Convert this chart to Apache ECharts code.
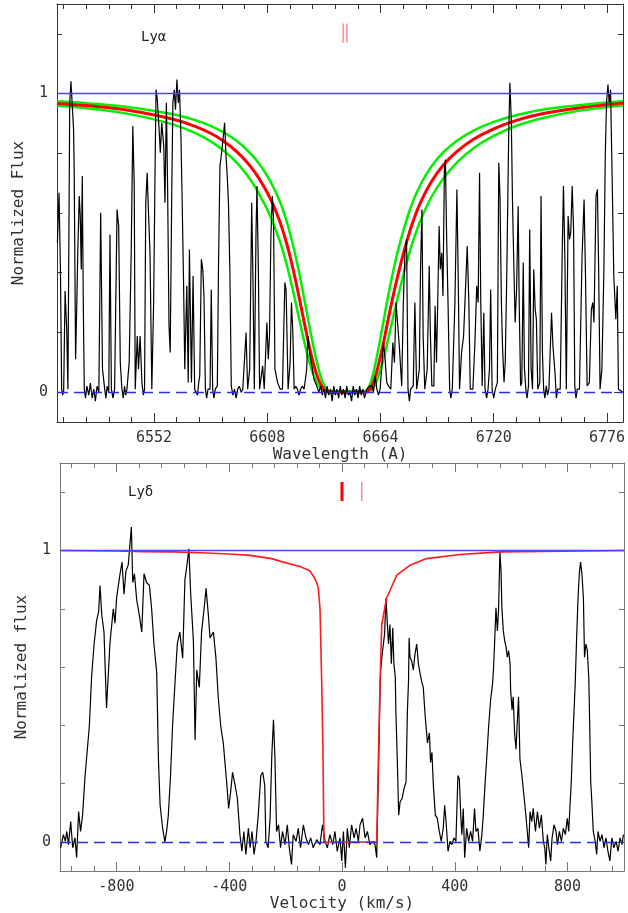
<!DOCTYPE html>
<html>
<head>
<meta charset="utf-8">
<title>Lyα / Lyδ</title>
<script src="https://cdn.jsdelivr.net/npm/echarts@6/dist/echarts.min.js"></script>
<style>
html,body{margin:0;padding:0;background:#fff;}
#main{width:628px;height:913px;}
</style>
</head>
<body>
<div id="main"></div>
<script>
// tick positions
var lyaMajor = [6552, 6608, 6664, 6720, 6776];
var lyaMinor = [6507.2, 6518.4, 6529.6, 6540.8, 6563.2, 6574.4, 6585.6, 6596.8, 6619.2, 6630.4,
	6641.6, 6652.8, 6675.2, 6686.4, 6697.6, 6708.8, 6731.2, 6742.4, 6753.6, 6764.8];
var velMajor = [-800, -400, 0, 400, 800];
var velMinor = [-960, -880, -720, -640, -560, -480, -320, -240, -160, -80, 80, 160, 240, 320, 480, 560, 640, 720, 880, 960];
var fluxMajor = [0, 1];
var fluxMinor = [0.2, 0.4, 0.6, 0.8, 1.2];

// Lya fit (red) and its error envelope (green)
var lyaFitWave = [6504,6520,6535,6550,6562,6572,6580,6587,6593,6598,6602,6606,6609,6612,6615,6618,6621,6624,6627,6630,6633,6636,6639,
	6656,6658,6660,6662,6665,6668,6671,6674,6677,6680,6684,6689,6695,6702,6710,6720,6732,6746,6762,6784];
var lyaFit = [0.967,0.959,0.948,0.931,0.913,0.891,0.867,0.838,0.805,0.770,0.735,0.692,0.655,0.610,0.556,0.488,0.405,0.310,0.210,0.118,0.048,0.010,0.0,
	0.0,0.005,0.025,0.065,0.150,0.250,0.345,0.430,0.505,0.570,0.638,0.703,0.760,0.807,0.847,0.882,0.912,0.935,0.952,0.968];
var lyaFitHigh = [0.974,0.967,0.958,0.944,0.930,0.912,0.892,0.868,0.841,0.811,0.782,0.745,0.713,0.673,0.625,0.563,0.485,0.392,0.287,0.181,0.088,0.025,0.003,
	0.003,0.014,0.052,0.112,0.219,0.330,0.427,0.509,0.579,0.638,0.698,0.754,0.803,0.843,0.876,0.905,0.929,0.948,0.961,0.974];
var lyaFitLow = [0.960,0.950,0.937,0.917,0.895,0.869,0.840,0.806,0.768,0.727,0.687,0.638,0.597,0.547,0.489,0.417,0.332,0.239,0.149,0.074,0.025,0.004,0.0,
	0.0,0.002,0.011,0.036,0.099,0.184,0.273,0.357,0.435,0.504,0.578,0.651,0.715,0.770,0.817,0.858,0.894,0.921,0.942,0.961];

// Lya spectrum [wavelength, flux]
var lyaSpectrum = [
	[6504.2,0.50],[6505.0,0.668],[6505.7,0.411],[6506.3,0.01],[6506.8,-0.01],[6507.3,0.004],[6508.0,0.339],[6508.8,0.211],
	[6509.4,0.01],[6510.3,0.969],[6510.9,1.041],[6511.6,1.036],[6512.2,0.88],[6512.5,0.746],[6513.2,0.11],[6513.8,0.30],
	[6514.3,0.478],[6515.0,0.657],[6515.5,0.59],[6516.0,0.411],[6516.5,0.724],[6517.0,0.30],[6517.5,0.01],
	[6518.1,-0.02],[6518.8,0.02],[6519.7,-0.01],[6520.5,0.03],[6521.4,-0.02],[6522.2,0.01],[6523.0,-0.03],[6523.8,0.02],[6524.7,0.0],
	[6525.6,0.601],[6526.5,0.077],[6527.6,0.01],[6528.2,-0.02],[6528.8,0.02],[6529.6,0.0],[6530.2,0.528],[6530.9,0.01],
	[6531.7,-0.02],[6532.5,0.01],[6533.7,0.612],[6534.5,0.556],[6535.3,0.099],[6536.1,0.01],[6536.8,-0.02],[6537.4,0.02],
	[6538.0,-0.01],[6538.6,0.01],[6539.7,0.099],[6540.7,0.467],[6541.5,0.891],[6542.2,0.69],[6542.7,0.01],[6543.7,0.188],
	[6544.3,0.077],[6545.1,0.188],[6546.0,0.032],[6546.7,-0.01],[6547.3,0.01],[6547.9,0.634],[6548.6,0.735],[6549.2,0.612],
	[6550.0,0.467],[6550.9,0.01],[6551.8,0.30],[6552.5,0.746],[6553.0,1.013],[6553.6,0.98],[6554.5,0.88],[6555.1,0.802],
	[6555.8,0.902],[6556.8,0.824],[6557.4,0.634],[6558.1,0.969],[6558.7,0.69],[6559.4,0.222],[6560.0,0.133],[6560.7,0.634],
	[6561.3,0.969],[6562.0,1.013],[6562.6,0.946],[6563.3,1.047],[6564.0,0.969],[6564.6,1.013],[6565.3,0.857],[6565.8,0.679],
	[6566.6,0.367],[6567.2,0.077],[6568.2,0.356],[6568.9,0.032],[6569.5,0.478],[6570.5,0.032],[6571.3,0.389],[6572.1,0.01],
	[6573.5,-0.01],[6574.1,0.032],[6574.6,0.055],[6575.4,0.445],[6576.1,0.411],[6576.7,0.322],[6577.4,0.01],[6578.0,-0.02],
	[6578.7,0.01],[6579.7,0.01],[6580.3,0.344],[6581.0,0.01],[6581.6,-0.02],[6582.3,0.01],[6583.3,0.021],[6583.9,0.434],
	[6584.6,0.757],[6585.2,0.79],[6586.1,0.846],[6586.9,0.902],[6587.5,0.802],[6588.2,0.724],[6588.8,0.634],[6589.5,0.411],
	[6590.2,0.021],[6591.0,-0.01],[6591.8,0.01],[6592.6,-0.02],[6593.4,0.01],[6594.2,0.02],[6595.1,-0.001],[6595.9,0.01],
	[6596.7,0.01],[6597.5,0.2],[6598.3,0.01],[6599.3,0.077],[6600.3,0.634],[6600.9,0.389],[6601.6,0.01],[6602.4,0.523],
	[6602.9,0.69],[6603.6,0.411],[6604.2,0.01],[6605.7,0.088],[6606.5,0.01],[6607.8,0.233],[6608.5,0.11],[6609.1,0.188],
	[6609.8,0.523],[6610.5,0.657],[6611.1,0.579],[6611.8,0.077],[6613.1,0.032],[6614.4,0.01],[6615.5,0.01],[6616.7,0.367],
	[6617.3,0.344],[6618.3,0.01],[6619.3,0.099],[6619.95,0.3],[6620.6,0.211],[6621.3,0.01],[6622.1,0.02],[6622.9,0.01],
	[6623.7,-0.01],[6624.5,0.01],[6625.3,0.02],[6626.2,0.01],[6627.0,0.05],[6627.5,0.077],[6628.1,0.188],[6629.1,0.122],
	[6630.1,0.088],[6631.1,0.043],[6632.7,0.016],[6633.5,0.0],[6634.4,0.02],[6635.2,-0.01],[6636.0,0.01],[6636.8,-0.02],
	[6637.6,0.02],[6638.4,-0.01],[6639.3,0.01],[6640.1,-0.03],[6640.9,0.02],[6641.7,-0.01],[6642.5,0.01],[6643.3,-0.02],
	[6644.1,0.02],[6644.9,-0.01],[6645.7,0.01],[6646.5,-0.02],[6647.3,0.02],[6648.1,-0.01],[6648.9,0.0],[6649.7,-0.03],
	[6650.5,0.02],[6651.3,-0.01],[6652.1,0.01],[6652.9,-0.02],[6653.7,0.02],[6654.5,-0.01],[6655.3,0.01],[6656.1,-0.02],
	[6657.3,0.01],[6658.5,0.02],[6659.7,0.021],[6660.5,0.0],[6661.4,0.055],[6662.2,0.01],[6663.0,-0.01],[6663.8,0.01],
	[6665.5,0.166],[6666.3,0.11],[6667.1,0.032],[6667.9,0.021],[6669.1,0.01],[6670.1,0.166],[6670.9,0.099],[6671.7,0.3],
	[6672.3,0.244],[6673.3,0.155],[6674.5,0.021],[6675.3,0.3],[6676.1,0.467],[6676.9,0.512],[6677.6,0.01],[6678.3,-0.03],
	[6678.9,0.01],[6680.2,0.021],[6681.0,0.3],[6681.9,0.01],[6683.2,0.077],[6683.8,0.411],[6684.5,0.612],[6685.1,0.188],
	[6685.9,0.01],[6687.1,0.077],[6688.1,0.423],[6688.7,0.188],[6689.4,0.021],[6690.4,0.021],[6691.0,0.289],[6691.7,0.099],
	[6692.3,0.3],[6693.0,0.556],[6693.6,0.411],[6694.3,0.467],[6694.9,0.322],[6695.6,0.746],[6696.1,0.779],[6696.7,0.523],
	[6697.4,0.3],[6698.2,0.01],[6698.8,-0.02],[6699.5,0.01],[6700.8,0.3],[6701.8,0.679],[6702.5,0.356],[6703.1,0.01],
	[6704.1,0.133],[6705.1,0.188],[6706.1,0.356],[6706.9,0.489],[6707.7,0.3],[6708.4,0.01],[6709.7,0.01],[6710.7,0.166],
	[6711.6,0.356],[6712.3,0.3],[6713.0,0.735],[6713.6,0.3],[6714.3,0.021],[6715.1,0.266],[6715.7,0.01],[6716.5,-0.02],
	[6717.2,0.01],[6717.9,0.077],[6718.5,0.344],[6719.2,0.01],[6720.0,-0.02],[6720.8,0.01],[6721.8,0.032],[6722.5,0.768],
	[6723.1,0.657],[6723.8,0.3],[6724.4,0.144],[6725.1,0.032],[6725.7,0.099],[6726.5,0.411],[6727.4,0.857],[6728.0,1.036],
	[6728.7,0.913],[6729.3,0.634],[6730.0,0.411],[6730.6,0.233],[6731.3,0.344],[6732.1,0.623],[6732.6,0.3],[6733.3,0.021],
	[6733.9,0.032],[6734.6,0.434],[6735.2,0.077],[6735.9,0.01],[6736.5,-0.02],[6737.2,0.021],[6737.8,0.545],[6738.5,0.077],
	[6739.2,0.01],[6739.8,0.411],[6740.5,0.278],[6741.1,0.244],[6741.8,0.01],[6742.8,0.032],[6743.4,0.657],[6744.1,0.133],
	[6744.7,0.01],[6745.3,-0.02],[6746.0,0.021],[6746.6,-0.01],[6747.3,0.01],[6748.6,0.266],[6749.3,0.155],[6750.3,0.066],
	[6751.0,-0.02],[6751.6,0.01],[6752.9,0.01],[6753.9,0.478],[6754.5,0.69],[6755.2,0.445],[6755.9,0.01],[6756.8,0.59],
	[6757.5,0.512],[6758.1,0.534],[6758.8,0.69],[6759.5,0.545],[6760.1,0.021],[6760.7,-0.02],[6761.3,0.01],[6762.4,0.01],
	[6763.7,0.456],[6764.7,0.645],[6765.4,0.389],[6766.2,0.021],[6767.3,0.032],[6768.3,0.278],[6769.0,0.3],[6769.6,0.233],
	[6770.6,0.657],[6771.3,0.679],[6771.9,0.411],[6772.6,0.01],[6773.5,0.077],[6774.5,0.411],[6775.2,0.802],[6775.8,0.969],
	[6776.5,1.03],[6777.1,0.969],[6777.8,1.013],[6778.5,0.746],[6779.4,0.389],[6780.4,0.244],[6781.1,0.356],[6781.7,0.01],
	[6782.5,0.01],[6783.9,0.0]
];

// Lyd fit (red)
var lydFitVel = [-1000,-800,-700,-600,-500,-400,-326,-250,-208,-149,-114,-100,-90,-84,-78,-72,-68,-64,
	123,129,135,141,158,194,241,300,418,560,1000];
var lydFit = [1.0,0.998,0.996,0.995,0.992,0.988,0.983,0.972,0.960,0.945,0.93,0.91,0.89,0.87,0.80,0.55,0.34,0.0,
	0.0,0.285,0.55,0.746,0.836,0.915,0.949,0.972,0.986,0.995,1.0];

// Lyd spectrum [velocity, flux]
var lydSpectrum = [
	[-998,-0.02],[-988,0.025],[-981,0.002],[-976,0.036],[-970,-0.009],[-962,0.07],[-955,-0.02],[-947,0.014],[-941,-0.054],
	[-934,0.104],[-927,0.036],[-920,0.092],[-911,0.228],[-903,0.318],[-896,0.397],[-888,0.566],[-879,0.68],[-870,0.76],
	[-863,0.79],[-858,0.88],[-852,0.78],[-844,0.72],[-835,0.46],[-823,0.68],[-811,0.80],[-805,0.75],[-799,0.84],[-787,0.92],
	[-780,0.96],[-773,0.85],[-766,0.93],[-758,0.95],[-752,1.02],[-747,1.08],[-742,0.89],[-736,0.92],[-728,0.83],[-719,0.78],
	[-710,0.72],[-702,0.92],[-693,0.89],[-683,0.88],[-675,0.80],[-667,0.68],[-657,0.58],[-651,0.284],[-645,0.126],[-636,0.047],
	[-628,0.0],[-622,0.036],[-616,0.09],[-608,0.228],[-601,0.397],[-591,0.566],[-584,0.68],[-575,0.72],[-565,0.63],[-557,0.90],
	[-551,0.94],[-543,1.006],[-537,0.86],[-527,0.69],[-521,0.35],[-515,0.59],[-506,0.53],[-498,0.72],[-489,0.80],[-482,0.87],
	[-474,0.78],[-468,0.70],[-456,0.72],[-447,0.63],[-439,0.498],[-430,0.397],[-421,0.34],[-409,0.205],[-402,0.115],[-395,0.171],
	[-388,0.239],[-379,0.194],[-371,0.149],[-366,0.081],[-362,0.025],[-355,-0.032],[-348,0.036],[-341,-0.043],[-332,0.047],
	[-326,-0.02],[-319,0.036],[-312,-0.043],[-305,0.002],[-297,0.092],[-288,0.228],[-281,0.239],[-274,0.194],[-270,0.002],
	[-262,-0.02],[-255,0.081],[-249,0.295],[-243,0.419],[-238,0.295],[-232,0.036],[-225,0.059],[-218,-0.02],[-211,0.036],
	[-202,-0.009],[-194,0.059],[-187,-0.02],[-179,-0.077],[-173,0.025],[-163,0.002],[-155,0.047],[-147,-0.02],[-137,0.059],
	[-128,0.014],[-119,-0.009],[-111,0.014],[-102,-0.02],[-90,0.008],[-78,-0.009],[-69,0.059],[-60,0.002],[-52,-0.02],
	[-43,0.025],[-33,-0.009],[-25,0.036],[-17,-0.032],[-7,0.014],[-1,-0.065],[5,0.036],[12,-0.088],[19,0.047],[26,-0.02],
	[34,0.059],[43,0.014],[50,0.047],[58,0.002],[64,0.059],[73,0.081],[82,0.014],[90,0.036],[99,-0.009],[109,0.002],
	[117,-0.009],[123,-0.054],[129,0.228],[135,0.521],[137,0.589],[144,0.656],[151,0.713],[156,0.837],[161,0.746],[165,0.679],
	[170,0.746],[175,0.611],[180,0.735],[184,0.611],[189,0.566],[191,0.453],[196,0.284],[201,0.092],[206,0.138],[213,0.149],
	[220,0.183],[227,0.205],[232,0.453],[236,0.555],[238,0.70],[241,0.634],[247,0.622],[253,0.589],[259,0.645],[265,0.679],
	[271,0.611],[277,0.577],[284,0.544],[288,0.532],[295,0.431],[303,0.34],[310,0.374],[314,0.273],[319,0.307],[324,0.194],
	[331,0.092],[338,0.081],[345,0.036],[352,0.002],[359,0.047],[364,0.126],[369,0.07],[376,-0.032],[383,0.002],[390,-0.009],
	[397,0.014],[404,0.002],[411,0.228],[416,0.217],[421,0.092],[425,0.025],[430,0.115],[435,-0.054],[442,0.047],[449,0.002],
	[456,0.036],[463,0.002],[470,0.115],[475,0.036],[482,0.047],[489,-0.032],[496,0.025],[501,0.092],[507,0.194],[513,0.284],
	[520,0.397],[527,0.487],[534,0.544],[537,0.589],[541,0.679],[546,0.803],[551,0.724],[555,0.792],[560,0.995],[564,0.927],
	[567,0.803],[572,0.724],[577,0.69],[582,0.668],[586,0.634],[591,0.656],[596,0.611],[598,0.521],[603,0.453],[607,0.498],
	[612,0.374],[617,0.318],[622,0.419],[626,0.498],[631,0.284],[638,0.228],[645,0.16],[652,0.092],[657,0.036],[662,-0.02],
	[667,0.104],[673,0.07],[678,0.115],[686,0.036],[693,0.104],[700,0.047],[707,0.092],[714,0.002],[719,-0.02],[723,-0.077],
	[728,0.025],[735,-0.032],[740,-0.065],[745,0.014],[752,0.059],[759,0.036],[764,-0.009],[771,0.036],[778,0.002],[785,0.047],
	[792,0.025],[799,0.081],[804,0.036],[808,0.115],[813,0.205],[818,0.34],[823,0.453],[827,0.544],[832,0.70],[837,0.837],
	[842,0.927],[846,0.96],[851,0.916],[856,0.837],[860,0.634],[865,0.679],[870,0.656],[875,0.566],[877,0.476],[882,0.205],
	[886,0.138],[891,0.036],[898,0.002],[903,-0.043],[908,0.036],[915,0.002],[922,0.025],[929,-0.02],[936,0.014],[943,-0.032],
	[950,-0.065],[957,0.014],[964,-0.02],[972,0.002],[979,-0.032],[986,0.014],[993,-0.009],[998,0.025]
];

// absorber components (red ticks)
var lyaComponents = [6645.5, 6647.4];
var lydComponents = [0, 70];
var compBottom = 1.17, compTop = 1.235;

var mono = '"DejaVu Sans Mono", monospace';

function pairs(xs, ys){
	var out = [];
	for (var i = 0; i < xs.length; i++) out.push([xs[i], ys[i]]);
	return out;
}

// one axis of the frame; several are stacked to get major+minor ticks on all 4 sides
function oneAxis(g, pos, min, max, ticks, len, line, labels, name, color){
	var vertical = (pos == 'left' || pos == 'right');
	return {
		type: 'value', gridIndex: g, position: pos, min: min, max: max,
		name: name, nameLocation: 'middle', nameGap: vertical ? 30 : 18,
		nameTextStyle: {fontFamily: mono, fontSize: 16, color: '#333'},
		axisLine: {show: line, onZero: false, lineStyle: {color: color, width: 1}},
		axisTick: {show: true, inside: true, length: len, customValues: ticks, lineStyle: {color: color}},
		axisLabel: {show: labels, customValues: ticks, margin: 9, fontFamily: mono, fontSize: 15, color: '#333',
			formatter: function(v){ return String(v); }},
		splitLine: {show: false}
	};
}

function axisSet(kind, g, min, max, major, minor, color, name){
	var sides = kind == 'x' ? ['bottom', 'top'] : ['left', 'right'];
	var list = [];
	for (var i = 0; i < 2; i++){
		list.push(oneAxis(g, sides[i], min, max, major, 9, true, i == 0, i == 0 ? name : '', color));
		list.push(oneAxis(g, sides[i], min, max, minor, 5, false, false, '', color));
	}
	return list;
}

function contLines(){
	return {
		silent: true, symbol: 'none', label: {show: false}, animation: false,
		data: [
			{yAxis: 1, lineStyle: {color: '#4646ff', width: 1.3, type: 'solid'}},
			{yAxis: 0, lineStyle: {color: '#2d2dea', width: 1.3, type: [11, 6]}}
		]
	};
}

function compSeries(list, xi, widths, colors){
	var out = [];
	for (var i = 0; i < list.length; i++){
		out.push({
			type: 'line', xAxisIndex: xi, yAxisIndex: xi, showSymbol: false, silent: true,
			data: [[list[i], compBottom], [list[i], compTop]],
			lineStyle: {color: colors[i], width: widths[i]}
		});
	}
	return out;
}

var myChart = echarts.init(document.getElementById('main'));

var series = [
	{type: 'line', xAxisIndex: 0, yAxisIndex: 0, showSymbol: false, smooth: 0.4,
		data: pairs(lyaFitWave, lyaFitHigh), lineStyle: {color: '#00f000', width: 2.5}, markLine: contLines()},
	{type: 'line', xAxisIndex: 0, yAxisIndex: 0, showSymbol: false, smooth: 0.4,
		data: pairs(lyaFitWave, lyaFitLow), lineStyle: {color: '#00f000', width: 2.5}},
	{type: 'line', xAxisIndex: 0, yAxisIndex: 0, showSymbol: false, smooth: 0.4,
		data: pairs(lyaFitWave, lyaFit), lineStyle: {color: '#ff0000', width: 3}},
	{type: 'line', xAxisIndex: 0, yAxisIndex: 0, showSymbol: false,
		data: lyaSpectrum, lineStyle: {color: '#000', width: 1.2}},
	{type: 'line', xAxisIndex: 4, yAxisIndex: 4, showSymbol: false,
		data: lydSpectrum, lineStyle: {color: '#000', width: 1.2}, markLine: contLines()},
	{type: 'line', xAxisIndex: 4, yAxisIndex: 4, showSymbol: false,
		data: pairs(lydFitVel, lydFit), lineStyle: {color: '#ff1a1a', width: 1.6}}
].concat(compSeries(lyaComponents, 0, [1.2, 1.2], ['#ff6e6e', '#ff6e6e']))
 .concat(compSeries(lydComponents, 4, [3, 1.5], ['#ff0000', '#ff8a8a']));

var option = {
	animation: false,
	backgroundColor: '#fff',
	grid: [
		{left: 57, right: 2, top: 4, height: 418},
		{left: 60, right: 4, top: 463, height: 414}
	],
	xAxis: axisSet('x', 0, 6504, 6784, lyaMajor, lyaMinor, '#333', 'Wavelength (A)')
		.concat(axisSet('x', 1, -1000, 1000, velMajor, velMinor, '#777', 'Velocity (km/s)')),
	yAxis: axisSet('y', 0, -0.1, 1.3, fluxMajor, fluxMinor, '#333', 'Normalized Flux')
		.concat(axisSet('y', 1, -0.1, 1.3, fluxMajor, fluxMinor, '#777', 'Normalized flux')),
	graphic: [
		{type: 'text', left: 141, top: 30, style: {text: 'Lyα', font: '14px ' + mono, fill: '#222'}},
		{type: 'text', left: 128, top: 485, style: {text: 'Lyδ', font: '14px ' + mono, fill: '#222'}}
	],
	series: series
};

myChart.setOption(option);
</script>
</body>
</html>
